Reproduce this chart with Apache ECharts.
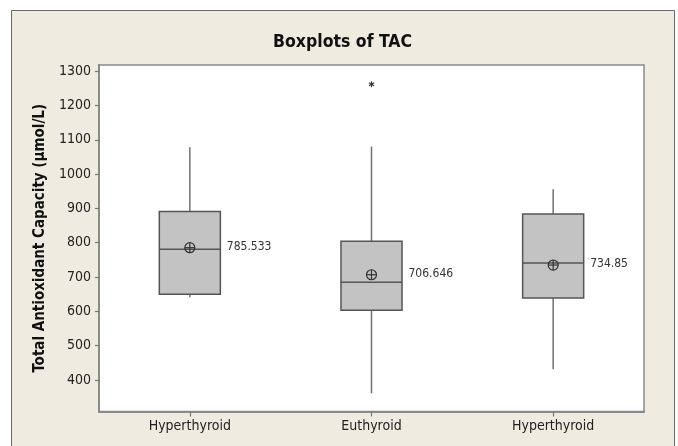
<!DOCTYPE html>
<html><head><meta charset="utf-8">
<script src="https://cdn.jsdelivr.net/npm/echarts@6/dist/echarts.min.js"></script>
<style>html,body{margin:0;padding:0;background:#fff}#c{width:678px;height:446px}</style>
</head><body><div id="c"></div>
<script>
// ---- data ----
const categories = ['Hyperthyroid', 'Euthyroid', 'Hyperthyroid'];
const whiskerLow  = [641, 361, 431];
const q1          = [650, 603, 639];
const median      = [781, 685, 741];
const q3          = [891, 804, 884];
const whiskerHigh = [1078, 1080, 956];
const means       = [785.533, 706.646, 734.85];
const outlierGroup = [1];
const outlierValue = [1262];
const yTicks = [400, 500, 600, 700, 800, 900, 1000, 1100, 1200, 1300];

// ---- build ----
const boxData = categories.map((c, i) => [i, whiskerLow[i], q1[i], median[i], q3[i], whiskerHigh[i], means[i]]);
const outData = outlierGroup.map((g, i) => [g, outlierValue[i]]);

const FONT = "'DejaVu Sans Condensed', 'DejaVu Sans', sans-serif";
const BOX_STROKE = '#555';
const WHISK = '#707070';

function renderBox(params, api) {
  const x = api.value(0);
  const pLow = api.coord([x, api.value(1)]);
  const pQ1 = api.coord([x, api.value(2)]);
  const pMed = api.coord([x, api.value(3)]);
  const pQ3 = api.coord([x, api.value(4)]);
  const pHigh = api.coord([x, api.value(5)]);
  const pMean = api.coord([x, api.value(6)]);
  const hw = api.size([1, 0])[0] * 0.168;
  const cx = pMed[0];
  const r = 5;
  return {
    type: 'group',
    children: [
      { type: 'line', shape: { x1: cx, y1: pHigh[1], x2: cx, y2: pQ3[1] }, style: { stroke: WHISK, lineWidth: 1.5 } },
      { type: 'line', shape: { x1: cx, y1: pQ1[1], x2: cx, y2: pLow[1] }, style: { stroke: WHISK, lineWidth: 1.5 } },
      { type: 'rect', shape: { x: cx - hw, y: pQ3[1], width: hw * 2, height: pQ1[1] - pQ3[1] },
        style: { fill: '#c3c3c3', stroke: BOX_STROKE, lineWidth: 1.5 } },
      { type: 'line', shape: { x1: cx - hw, y1: pMed[1], x2: cx + hw, y2: pMed[1] }, style: { stroke: BOX_STROKE, lineWidth: 1.5 } },
      { type: 'circle', shape: { cx: cx, cy: pMean[1], r: r }, style: { fill: 'none', stroke: '#333', lineWidth: 1.2 } },
      { type: 'line', shape: { x1: cx - r, y1: pMean[1], x2: cx + r, y2: pMean[1] }, style: { stroke: '#333', lineWidth: 1.2 } },
      { type: 'line', shape: { x1: cx, y1: pMean[1] - r, x2: cx, y2: pMean[1] + r }, style: { stroke: '#333', lineWidth: 1.2 } },
      { type: 'text', x: cx + 37, y: pMean[1] - 1,
        style: { text: String(api.value(6)), fill: '#333', font: '12px ' + FONT, textAlign: 'left', textVerticalAlign: 'middle' } }
    ]
  };
}

function renderOutlier(params, api) {
  const p = api.coord([api.value(0), api.value(1)]);
  const s = 3;
  const st = { stroke: '#333', lineWidth: 1.1 };
  return {
    type: 'group',
    children: [
      { type: 'line', shape: { x1: p[0], y1: p[1] - s, x2: p[0], y2: p[1] + s }, style: st },
      { type: 'line', shape: { x1: p[0] - s * 0.87, y1: p[1] - s * 0.5, x2: p[0] + s * 0.87, y2: p[1] + s * 0.5 }, style: st },
      { type: 'line', shape: { x1: p[0] - s * 0.87, y1: p[1] + s * 0.5, x2: p[0] + s * 0.87, y2: p[1] - s * 0.5 }, style: st }
    ]
  };
}

const chart = echarts.init(document.getElementById('c'), null, { renderer: 'canvas' });
chart.setOption({
  animation: false,
  backgroundColor: '#ffffff',
  graphic: [
    { type: 'rect', z: -100, shape: { x: 11.5, y: 10.5, width: 663, height: 470 },
      style: { fill: '#efebe1', stroke: '#6a6a6a', lineWidth: 1 }, silent: true }
  ],
  title: {
    text: 'Boxplots of TAC',
    left: 273, top: 33, padding: 0,
    textStyle: { fontFamily: FONT, fontWeight: 'bold', fontSize: 17.5, color: '#111' }
  },
  grid: {
    left: 99, top: 65, right: 34, bottom: 34.5,
    show: true, backgroundColor: '#ffffff', borderColor: '#8a8a8a', borderWidth: 1.5
  },
  xAxis: {
    type: 'category',
    data: categories,
    boundaryGap: true,
    axisLine: { show: true, lineStyle: { color: '#8a8a8a', width: 2 } },
    axisTick: { show: true, alignWithLabel: true, length: 5, lineStyle: { color: '#777', width: 1.2 } },
    axisLabel: { margin: 8, fontFamily: FONT, fontSize: 14, color: '#222', interval: 0 },
    splitLine: { show: false }
  },
  yAxis: {
    type: 'value',
    min: 308, max: 1318,
    name: 'Total Antioxidant Capacity (µmol/L)',
    nameLocation: 'middle',
    nameGap: 50,
    nameTextStyle: { fontFamily: FONT, fontWeight: 'bold', fontSize: 15, color: '#111' },
    axisLine: { show: true, lineStyle: { color: '#8a8a8a', width: 2 } },
    axisTick: { show: true, length: 4, customValues: yTicks, lineStyle: { color: '#777', width: 1.2 } },
    axisLabel: { margin: 8, customValues: yTicks, formatter: v => String(v), fontFamily: FONT, fontSize: 14, color: '#222' },
    splitLine: { show: false }
  },
  series: [
    { type: 'custom', name: 'TAC', renderItem: renderBox, data: boxData,
      encode: { x: 0, y: [1, 2, 3, 4, 5, 6] }, clip: false },
    { type: 'custom', name: 'Outlier', renderItem: renderOutlier, data: outData,
      encode: { x: 0, y: 1 }, clip: false }
  ]
});
</script>
</body></html>
